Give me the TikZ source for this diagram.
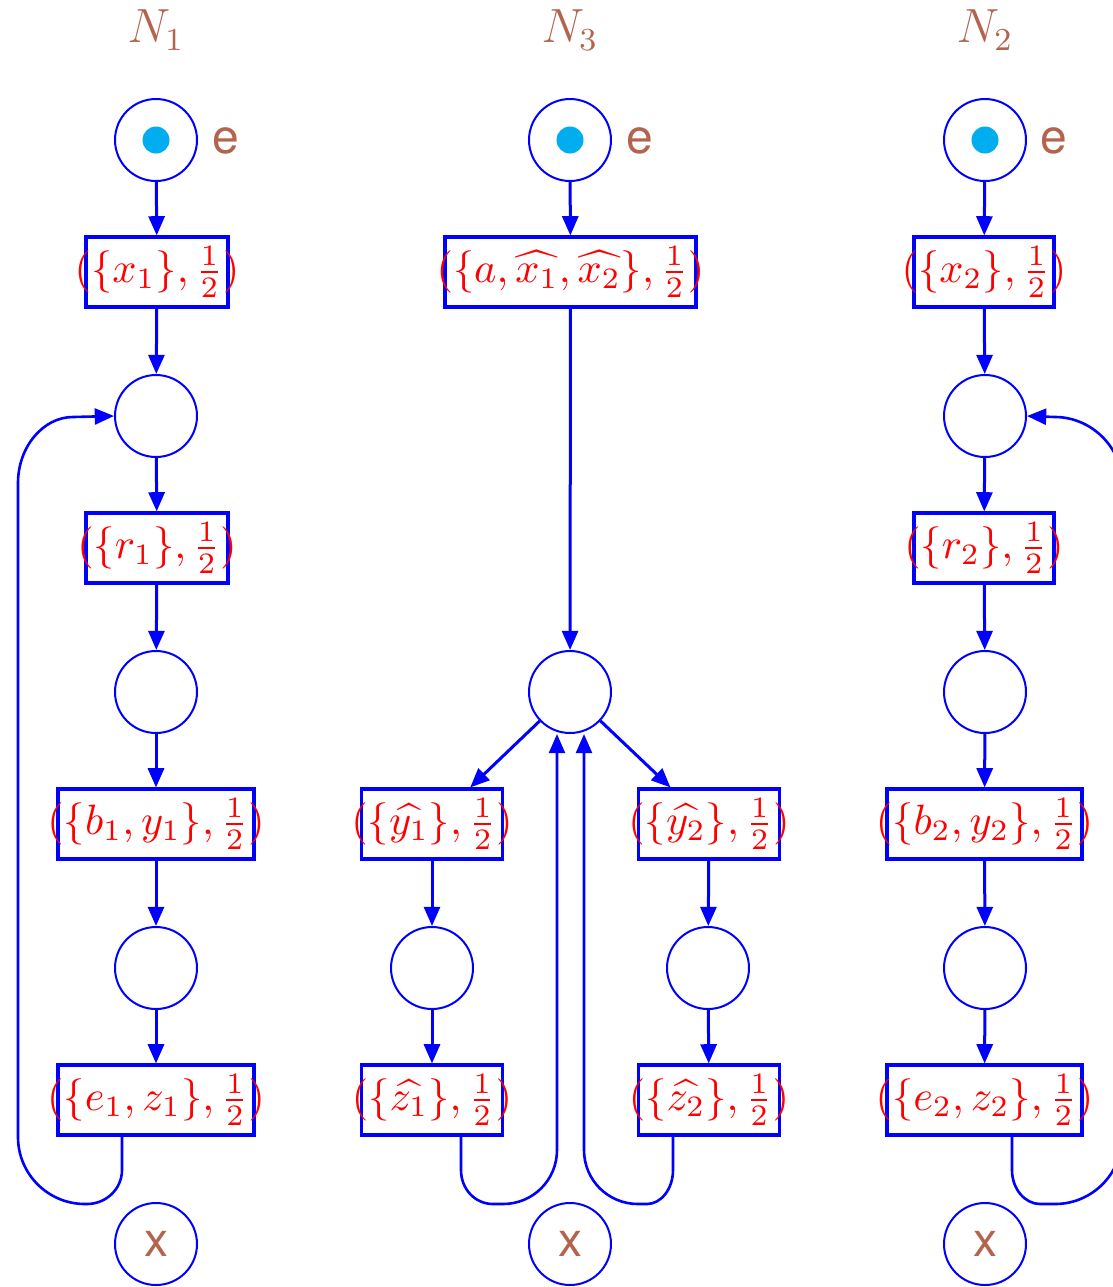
\documentclass[tikz,border=0pt]{standalone}
\usepackage{fontspec}
\newfontfamily\hv{TeX Gyre Heros}
\usetikzlibrary{arrows.meta,calc}
\definecolor{brn}{RGB}{180,100,78}
\definecolor{tok}{RGB}{0,174,239}
\tikzset{
  place/.style={circle, draw=blue, line width=0.5pt, minimum size=20.5pt, inner sep=0pt, text=brn, font=\hv\large},
  token/.style={circle, fill=tok, minimum size=6.75pt, inner sep=0pt},
  trans/.style={rectangle, draw=blue, line width=0.8pt, minimum height=17.5pt, inner sep=0pt, text=red},
  netlabel/.style={text=brn, font=\large, inner sep=0pt},
  elabel/.style={text=brn, font=\hv\large, inner sep=0pt},
  arr/.style={draw=blue, line width=0.75pt, -{Triangle[length=4.8pt,width=4pt]}},
  loopline/.style={draw=blue, line width=0.65pt, -{Triangle[length=4.8pt,width=4pt]}}
}
\newcommand{\lbl}[1]{\makebox[0pt]{\scalebox{1.06}{$#1$}}}
\begin{document}
\begin{tikzpicture}[x=0.25pt,y=-0.25pt]
\useasboundingbox (0,0) rectangle (1113,1287);

% ---------- N1 ----------
\node[netlabel] (n1) at (156,30) {$N_1$};
\node[place] (a1) at (156,140) {};
\node[token] (ta1) at (156,140) {};
\node[elabel] (ea1) at (226,141) {e};
\node[trans, minimum width=35.5pt] (a2) at (157,272) {\lbl{(\{x_1\},\frac{1}{2})}};
\node[place] (a3) at (156,416) {};
\node[trans, minimum width=35.5pt] (a4) at (157,548) {\lbl{(\{r_1\},\frac{1}{2})}};
\node[place] (a5) at (156,692) {};
\node[trans, minimum width=49pt] (a6) at (156,824) {\lbl{(\{b_1,y_1\},\frac{1}{2})}};
\node[place] (a7) at (156,968) {};
\node[trans, minimum width=49pt] (a8) at (156,1100) {\lbl{(\{e_1,z_1\},\frac{1}{2})}};
\node[place] (a9) at (156,1244) {x};

\draw[arr] (a1) -- (a2);
\draw[arr] (a2) -- (a3);
\draw[arr] (a3) -- (a4);
\draw[arr] (a4) -- (a5);
\draw[arr] (a5) -- (a6);
\draw[arr] (a6) -- (a7);
\draw[arr] (a7) -- (a8);
\draw[loopline] ($(a8.south)+(-34,0)$) -- (122,1170)
  .. controls (122,1189) and (106,1204) .. (87,1204) -- (85,1204)
  .. controls (48,1204) and (18,1174) .. (18,1137) -- (18,483)
  .. controls (18,447) and (43,417) .. (73,417) -- (a3.west);

% ---------- N3 ----------
\node[netlabel] (n3) at (570,30) {$N_3$};
\node[place] (c1) at (570,140) {};
\node[token] (tc1) at (570,140) {};
\node[elabel] (ec1) at (640,141) {e};
\node[trans, minimum width=62.75pt] (c2) at (570.5,272) {\lbl{(\{a,\widehat{x_1},\widehat{x_2}\},\frac{1}{2})}};
\node[place] (c3) at (570,692) {};
\node[trans, minimum width=35.25pt] (c4) at (432,824) {\lbl{(\{\widehat{y_1}\},\frac{1}{2})}};
\node[trans, minimum width=35.25pt] (c5) at (709,824) {\lbl{(\{\widehat{y_2}\},\frac{1}{2})}};
\node[place] (c6) at (432,968) {};
\node[place] (c7) at (708,968) {};
\node[trans, minimum width=35.25pt] (c8) at (432,1100) {\lbl{(\{\widehat{z_1}\},\frac{1}{2})}};
\node[trans, minimum width=35.25pt] (c9) at (709,1100) {\lbl{(\{\widehat{z_2}\},\frac{1}{2})}};
\node[place] (c10) at (570,1244) {x};

\draw[arr] (c1) -- (c2);
\draw[arr] (c2) -- (c3);
\draw[arr] (c3) -- (c4);
\draw[arr] (c3) -- (c5);
\draw[arr] (c4) -- (c6);
\draw[arr] (c6) -- (c8);
\draw[arr] (c5) -- (c7);
\draw[arr] (c7) -- (c9);
\draw[loopline] ($(c8.south)+(29,0)$) -- (461,1170)
  .. controls (461,1189) and (475,1204) .. (493,1204) -- (503,1204)
  .. controls (533,1204) and (557,1180) .. (557,1150) -- ($(c3.south)+(-13,0)$);
\draw[loopline] ($(c9.south)+(-36,0)$) -- (673,1170)
  .. controls (673,1189) and (661,1204) .. (647,1204) -- (638,1204)
  .. controls (608,1204) and (584,1180) .. (584,1150) -- ($(c3.south)+(14,0)$);

% ---------- N2 ----------
\node[netlabel] (n2) at (985,30) {$N_2$};
\node[place] (b1) at (985,140) {};
\node[token] (tb1) at (985,140) {};
\node[elabel] (eb1) at (1054,141) {e};
\node[trans, minimum width=35pt] (b2) at (984,272) {\lbl{(\{x_2\},\frac{1}{2})}};
\node[place] (b3) at (985,416) {};
\node[trans, minimum width=35pt] (b4) at (984,548) {\lbl{(\{r_2\},\frac{1}{2})}};
\node[place] (b5) at (985,692) {};
\node[trans, minimum width=48.75pt] (b6) at (984.5,824) {\lbl{(\{b_2,y_2\},\frac{1}{2})}};
\node[place] (b7) at (985,968) {};
\node[trans, minimum width=48.75pt] (b8) at (984.5,1100) {\lbl{(\{e_2,z_2\},\frac{1}{2})}};
\node[place] (b9) at (985,1244) {x};

\draw[arr] (b1) -- (b2);
\draw[arr] (b2) -- (b3);
\draw[arr] (b3) -- (b4);
\draw[arr] (b4) -- (b5);
\draw[arr] (b5) -- (b6);
\draw[arr] (b6) -- (b7);
\draw[arr] (b7) -- (b8);
\draw[loopline] ($(b8.south)+(27.5,0)$) -- (1012,1170)
  .. controls (1012,1189) and (1025,1204) .. (1040,1204) -- (1055,1204)
  .. controls (1092,1204) and (1122,1174) .. (1122,1137) -- (1122,483)
  .. controls (1122,447) and (1091,417) .. (1055,417) -- (b3.east);
\end{tikzpicture}
\end{document}
